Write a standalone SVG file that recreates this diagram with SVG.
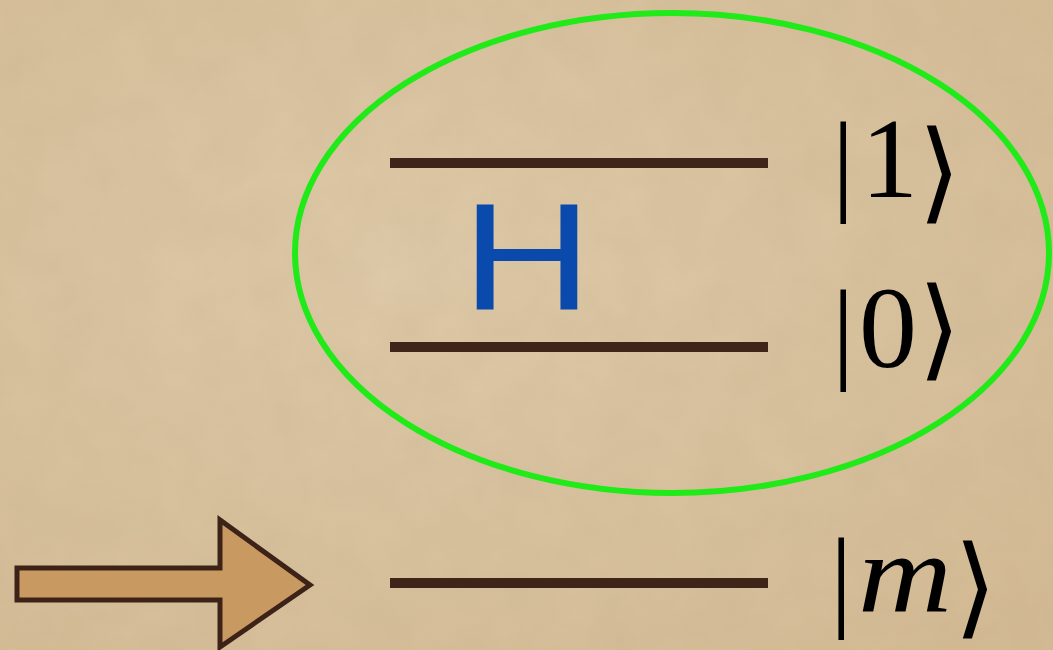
<svg xmlns="http://www.w3.org/2000/svg" width="1053" height="650" viewBox="0 0 1053 650">
<defs>
<style>
.lvl{stroke:#3e2419;stroke-width:10;fill:none}
.ket{font-family:"Liberation Serif","DejaVu Serif",serif;fill:#000}
.brk{font-family:"DejaVu Sans",sans-serif;font-weight:200;fill:#000}
</style>
<radialGradient id="bg" cx="0.4" cy="0.4" r="0.8">
<stop offset="0" stop-color="#dfcaa9"/>
<stop offset="1" stop-color="#d4bb95"/>
</radialGradient>
<filter id="tex" x="0" y="0" width="100%" height="100%">
<feTurbulence type="fractalNoise" baseFrequency="0.02" numOctaves="3" seed="3" result="n"/>
<feColorMatrix in="n" type="matrix" values="0 0 0 0 0.45  0 0 0 0 0.35  0 0 0 0 0.2  0 0 0 0.18 0"/>
</filter>
</defs>
<rect width="1053" height="650" fill="url(#bg)"/>
<rect width="1053" height="650" filter="url(#tex)"/>
<g id="system">
<ellipse cx="672" cy="253" rx="377" ry="240" fill="none" stroke="#20ea18" stroke-width="6"/>
</g>
<g id="level1">
<line class="lvl" x1="390" y1="163" x2="768" y2="163"/>
<text class="ket" x="832" y="200" font-size="112">|</text>
<text class="ket" x="861" y="197" font-size="114">1</text>
<text class="brk" x="918" y="209" font-size="110">⟩</text>
</g>
<g id="level0">
<line class="lvl" x1="390" y1="347" x2="768" y2="347"/>
<text class="ket" x="832" y="368" font-size="112">|</text>
<text class="ket" x="859" y="367" font-size="116">0</text>
<text class="brk" x="918" y="366" font-size="110">⟩</text>
</g>
<g id="hamiltonian">
<text x="0" y="0" font-family="Liberation Sans,Arial,sans-serif" font-size="150" fill="#0a4aad" transform="translate(462,310) scale(1.2,1.02)">H</text>
</g>
<g id="levelm">
<line class="lvl" x1="390" y1="583" x2="768" y2="583"/>
<text class="ket" x="830" y="616" font-size="112">|</text>
<text class="ket" x="858" y="612" font-size="112" font-style="italic" textLength="94" lengthAdjust="spacingAndGlyphs">m</text>
<text class="brk" x="954" y="624" font-size="110">⟩</text>
</g>
<g id="connectors">
<path d="M17,568 H220 V520 L310,585 L220,647 V600 H17 Z" fill="#c89a62" stroke="#3d2218" stroke-width="5" stroke-linejoin="miter"/>
</g>
</svg>
